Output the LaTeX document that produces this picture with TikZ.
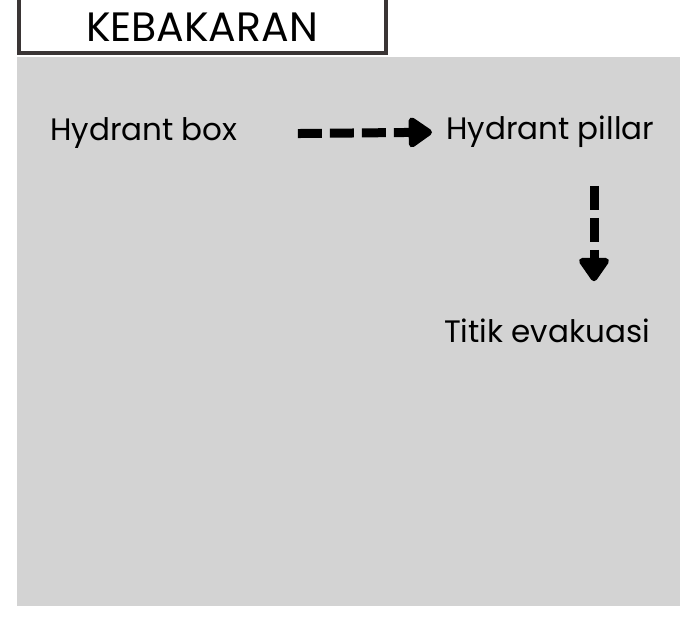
\documentclass[tikz,border=0pt]{standalone}
\usepackage{fontspec}
\setmainfont{Poppins}
\usepackage{tikz}
\usetikzlibrary{arrows.meta}

\definecolor{panelgray}{HTML}{D3D3D3}
\definecolor{framegray}{HTML}{3A3535}

\begin{document}
\begin{tikzpicture}[x=1pt, y=-1pt, >=latex,
    label/.style={anchor=base west, inner sep=0pt, font=\fontsize{31}{36}\selectfont},
    flow/.style={line width=9pt, dash pattern=on 24pt off 8pt,
        -{Triangle[length=26pt,width=34pt,round]}}]

% Parameters
\def\W{680}
\def\H{617}

\useasboundingbox (0,0) rectangle (\W,\H);

% Panel
\fill[panelgray] (17,57) rectangle (\W,606);

% Title
\draw[framegray, line width=4pt, fill=white] (19,-6) rectangle (386,53);
\node[anchor=base, inner sep=0pt, font=\fontsize{41}{46}\selectfont] (title) at (202,42) {KEBAKARAN};

% Labels
\node[label] (hbox) at (50,141) {Hydrant box};
\node[label] (hpillar) at (446,140) {Hydrant pillar};
\node[label] (titik) at (444,343) {Titik evakuasi};

% Arrows
\draw[flow] ([xshift=60pt]hbox.east) -- ([xshift=-14pt]hpillar.west);
\coordinate (vtop) at (594,186);
\draw[flow] (vtop) -- ([yshift=38pt]vtop |- titik.north);

\end{tikzpicture}
\end{document}
